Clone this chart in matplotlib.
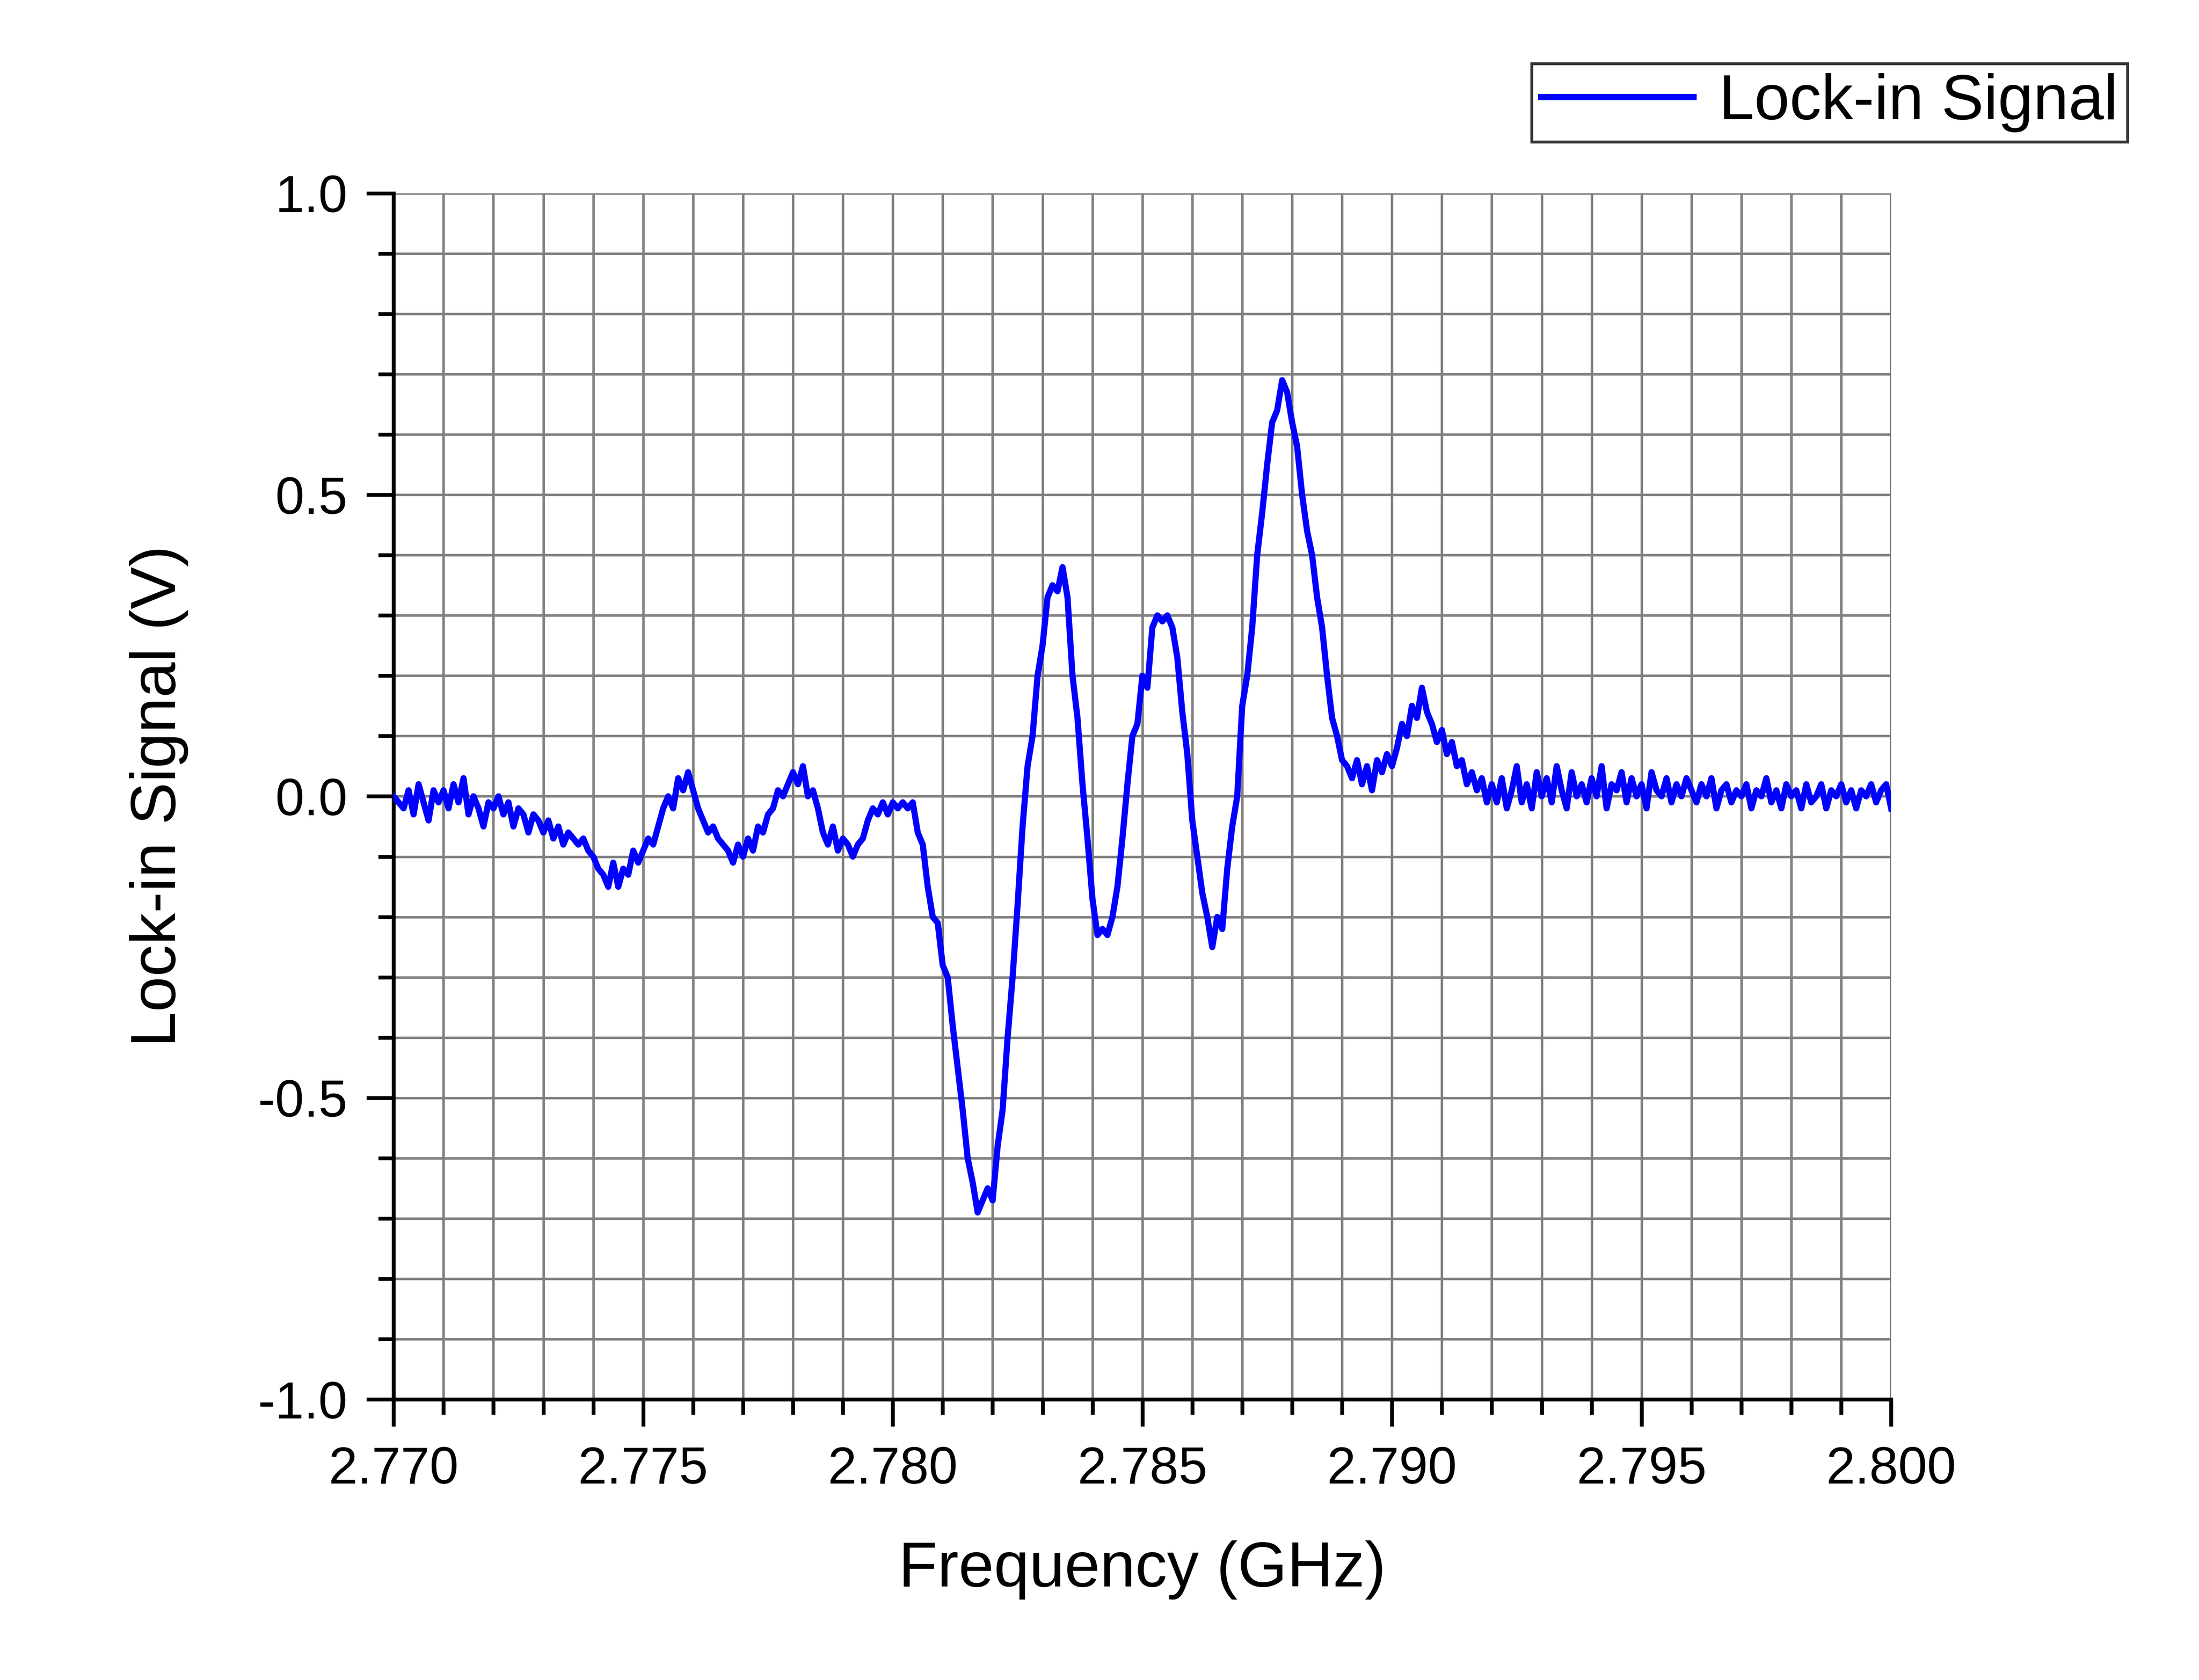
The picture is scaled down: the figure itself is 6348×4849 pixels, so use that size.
import matplotlib
matplotlib.use("Agg")
import matplotlib.pyplot as plt
import numpy as np
from matplotlib.ticker import MultipleLocator

freq_start = 2.770
freq_step = 0.0001
signal = [
 0.00,-0.01,-0.02,0.01,-0.03,0.02,-0.01,-0.04,0.01,-0.01,
 0.01,-0.02,0.02,-0.01,0.03,-0.03,0.00,-0.02,-0.05,-0.01,
 -0.02,0.00,-0.03,-0.01,-0.05,-0.02,-0.03,-0.06,-0.03,-0.04,
 -0.06,-0.04,-0.07,-0.05,-0.08,-0.06,-0.07,-0.08,-0.07,-0.09,
 -0.10,-0.12,-0.13,-0.15,-0.11,-0.15,-0.12,-0.13,-0.09,-0.11,
 -0.09,-0.07,-0.08,-0.05,-0.02,0.00,-0.02,0.03,0.01,0.04,
 0.01,-0.02,-0.04,-0.06,-0.05,-0.07,-0.08,-0.09,-0.11,-0.08,
 -0.10,-0.07,-0.09,-0.05,-0.06,-0.03,-0.02,0.01,0.00,0.02,
 0.04,0.02,0.05,0.00,0.01,-0.02,-0.06,-0.08,-0.05,-0.09,
 -0.07,-0.08,-0.10,-0.08,-0.07,-0.04,-0.02,-0.03,-0.01,-0.03,
 -0.01,-0.02,-0.01,-0.02,-0.01,-0.06,-0.08,-0.15,-0.20,-0.21,
 -0.28,-0.30,-0.38,-0.45,-0.52,-0.60,-0.64,-0.69,-0.67,-0.65,
 -0.67,-0.58,-0.52,-0.40,-0.30,-0.18,-0.05,0.05,0.10,0.20,
 0.25,0.33,0.35,0.34,0.38,0.33,0.20,0.13,0.02,-0.07,
 -0.17,-0.23,-0.22,-0.23,-0.20,-0.15,-0.07,0.02,0.10,0.12,
 0.20,0.18,0.28,0.30,0.29,0.30,0.28,0.23,0.14,0.07,
 -0.04,-0.10,-0.16,-0.20,-0.25,-0.20,-0.22,-0.12,-0.05,0.00,
 0.15,0.20,0.28,0.40,0.47,0.55,0.62,0.64,0.69,0.67,
 0.62,0.58,0.50,0.44,0.40,0.33,0.28,0.20,0.13,0.10,
 0.06,0.05,0.03,0.06,0.02,0.05,0.01,0.06,0.04,0.07,
 0.05,0.08,0.12,0.10,0.15,0.13,0.18,0.14,0.12,0.09,
 0.11,0.07,0.09,0.05,0.06,0.02,0.04,0.01,0.03,-0.01,
 0.02,-0.01,0.03,-0.02,0.01,0.05,-0.01,0.02,-0.02,0.04,
 0.00,0.03,-0.01,0.05,0.01,-0.02,0.04,0.00,0.02,-0.01,
 0.03,0.00,0.05,-0.02,0.02,0.01,0.04,-0.01,0.03,0.00,
 0.02,-0.02,0.04,0.01,0.00,0.03,-0.01,0.02,0.00,0.03,
 0.01,-0.01,0.02,0.00,0.03,-0.02,0.01,0.02,-0.01,0.01,
 0.00,0.02,-0.02,0.01,0.00,0.03,-0.01,0.01,-0.02,0.02,
 0.00,0.01,-0.02,0.02,-0.01,0.00,0.02,-0.02,0.01,0.00,
 0.02,-0.01,0.01,-0.02,0.01,0.00,0.02,-0.01,0.01,0.02,
 -0.02,
]
freq = freq_start + freq_step * np.arange(len(signal))

plt.rcParams['font.family'] = ['Liberation Sans', 'DejaVu Sans']
fig = plt.figure(figsize=(15.87, 12.1225), dpi=400)
ax = fig.add_axes([0.179, 0.167, 0.681, 0.718])
ax.plot(freq, signal, color='#0000ff', lw=3.2, label='Lock-in Signal', zorder=3)
ax.set_xlim(2.770, 2.800)
ax.set_ylim(-1.0, 1.0)
ax.xaxis.set_major_locator(MultipleLocator(0.005))
ax.xaxis.set_minor_locator(MultipleLocator(0.001))
ax.yaxis.set_major_locator(MultipleLocator(0.5))
ax.yaxis.set_minor_locator(MultipleLocator(0.1))
ax.xaxis.set_major_formatter(matplotlib.ticker.FormatStrFormatter('%.3f'))
ax.yaxis.set_major_formatter(matplotlib.ticker.FormatStrFormatter('%.1f'))
ax.grid(True, which='both', color='#808080', lw=1.3)
for s in ['top', 'right']:
    ax.spines[s].set_visible(False)
for s in ['left', 'bottom']:
    ax.spines[s].set_linewidth(2)
ax.tick_params(which='major', length=14, width=2, labelsize=27, direction='out', pad=10)
ax.tick_params(which='minor', length=8, width=2, direction='out')
ax.set_xlabel('Frequency (GHz)', fontsize=33, labelpad=24)
ax.set_ylabel('Lock-in Signal (V)', fontsize=33, labelpad=36)
leg = fig.legend(loc='upper right', bbox_to_anchor=(0.982, 0.981), fontsize=33,
                 frameon=True, fancybox=False, edgecolor='black', handlelength=2.4,
                 borderpad=0.15, handletextpad=0.4)
leg.get_frame().set_linewidth(1.5)
fig.savefig('out.png', dpi=400)
